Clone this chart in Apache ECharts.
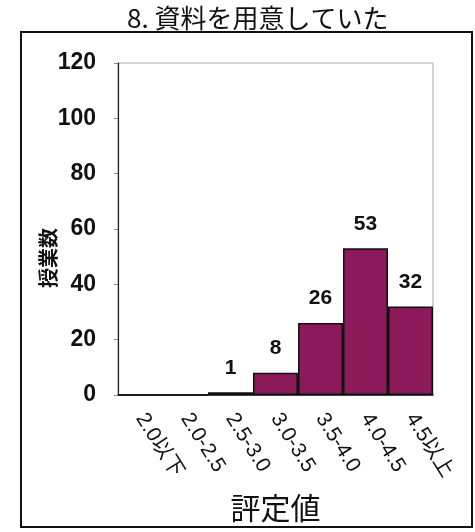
<!DOCTYPE html>
<html><head><meta charset="utf-8">
<script src="https://cdn.jsdelivr.net/npm/echarts@6/dist/echarts.min.js"></script>
<style>html,body{margin:0;padding:0;background:#fff}#c{width:475px;height:532px}</style>
</head><body><div id="c"></div>
<script>
const titleText = '8. 資料を用意していた';
const categories = ['2.0以下', '2.0-2.5', '2.5-3.0', '3.0-3.5', '3.5-4.0', '4.0-4.5', '4.5以上'];
const counts = [0, 0, 1, 8, 26, 53, 32];
const yTicks = [0, 20, 40, 60, 80, 100, 120];
const yName = '授業数';
const xName = '評定値';

const chart = echarts.init(document.getElementById('c'), null, {renderer: 'canvas'});
const fam = '"Liberation Sans", Arial, "Noto Sans CJK JP", sans-serif';
const cjk = '"Noto Sans CJK JP", sans-serif';
chart.setOption({
  animation: false,
  backgroundColor: '#fff',
  title: {
    text: titleText, left: 122, top: 0,
    textStyle: {fontFamily: cjk, fontSize: 26, fontWeight: 'normal', color: '#111'}
  },
  grid: {left: 118, right: 42, top: 63, bottom: 137, show: true, borderColor: '#aaa', borderWidth: 1},
  xAxis: {
    type: 'category', data: categories,
    name: xName, nameLocation: 'middle', nameGap: 98,
    nameTextStyle: {fontFamily: cjk, fontSize: 30, color: '#111'},
    axisLine: {lineStyle: {color: '#111', width: 1.5}},
    axisTick: {show: false},
    axisLabel: {rotate: -58, fontFamily: fam, fontSize: 21, color: '#111', margin: 20, interval: 0}
  },
  yAxis: {
    type: 'value', min: yTicks[0], max: yTicks[yTicks.length - 1], interval: 20,
    axisLine: {show: true, lineStyle: {color: '#222', width: 1.2}},
    axisTick: {show: true, length: 4, lineStyle: {color: '#888'}},
    splitLine: {show: false},
    axisLabel: {fontFamily: fam, fontSize: 23, fontWeight: 'bold', color: '#111', margin: 22}
  },
  series: [{
    type: 'bar', data: counts, barWidth: '100%', barCategoryGap: '0%',
    itemStyle: {color: '#8C1A5B', borderColor: '#111', borderWidth: 1.5},
    label: {
      show: true, position: 'top', distance: 14,
      fontFamily: fam, fontSize: 21, fontWeight: 'bold', color: '#111',
      formatter: p => (p.value > 0 ? String(p.value) : '')
    }
  }],
  graphic: [
    {type: 'rect', shape: {x: 21, y: 32, width: 451, height: 495}, style: {fill: 'none', stroke: '#111', lineWidth: 2}, silent: true},
    {type: 'text', x: 48, y: 258, rotation: Math.PI / 2,
     style: {text: yName, font: 'bold 20px "Noto Sans CJK JP", sans-serif', fill: '#111', textAlign: 'center', textVerticalAlign: 'middle'}}
  ]
});
</script></body></html>
